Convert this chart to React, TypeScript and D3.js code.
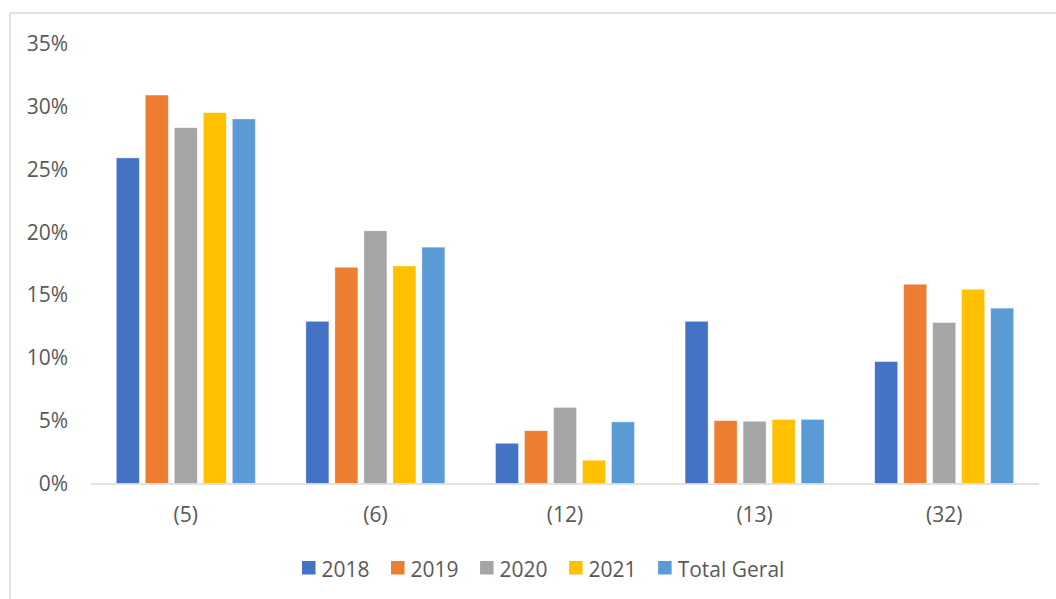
import React, { useEffect, useRef } from "react";
import * as d3 from "d3";

const categories = ["(5)", "(6)", "(12)", "(13)", "(32)"];
const seriesNames = ["2018", "2019", "2020", "2021", "Total Geral"];
const values2018 = [25.9, 12.9, 3.2, 12.9, 9.7];
const values2019 = [30.9, 17.2, 4.2, 5.0, 15.85];
const values2020 = [28.3, 20.1, 6.05, 4.95, 12.8];
const values2021 = [29.5, 17.3, 1.85, 5.1, 15.45];
const valuesTotal = [29.0, 18.8, 4.9, 5.1, 13.95];
const yTicks = [0, 5, 10, 15, 20, 25, 30, 35];
const colors = ["#4472C4", "#ED7D31", "#A5A5A5", "#FFC000", "#5B9BD5"];

const W = 1056;
const H = 599;
const FONT = "'Open Sans', sans-serif";
const FS = 21;
const TEXT = "#595959";

export default function App() {
  const ref = useRef<SVGSVGElement | null>(null);

  useEffect(() => {
    const svg = d3.select(ref.current);
    svg.selectAll("*").remove();

    const seriesValues = [values2018, values2019, values2020, values2021, valuesTotal];
    const plotLeft = 91;
    const plotRight = 1039;
    const y0 = 483.5;
    const yTop = 43.5;

    // chart frame (top and left visible)
    svg.append("line").attr("x1", 10).attr("x2", W).attr("y1", 13).attr("y2", 13)
      .attr("stroke", "#d9d9d9").attr("stroke-width", 1.5);
    svg.append("line").attr("x1", 10).attr("x2", 10).attr("y1", 13).attr("y2", H)
      .attr("stroke", "#d9d9d9").attr("stroke-width", 1.5);

    const y = d3.scaleLinear().domain([0, 35]).range([y0, yTop]);
    const x0 = d3.scaleBand<string>().domain(categories).range([plotLeft, plotRight]).paddingInner(0).paddingOuter(0);
    const bw = x0.bandwidth();
    const p = 6 / 29;
    const groupW = 29 * (5 - p);
    const x1 = d3.scaleBand<string>().domain(seriesNames)
      .range([bw / 2 - groupW / 2, bw / 2 + groupW / 2]).paddingInner(p).paddingOuter(0);

    // y labels
    svg.append("g").selectAll("text").data(yTicks).join("text")
      .attr("x", 68).attr("y", (d) => y(d) + 7.5)
      .attr("text-anchor", "end")
      .attr("font-family", FONT).attr("font-size", FS).attr("fill", TEXT)
      .text((d) => `${d}%`);

    // bars
    const g = svg.append("g");
    categories.forEach((c, ci) => {
      seriesNames.forEach((s, si) => {
        const v = seriesValues[si][ci];
        g.append("rect")
          .attr("x", (x0(c) as number) + (x1(s) as number))
          .attr("y", y(v))
          .attr("width", x1.bandwidth())
          .attr("height", y0 - y(v))
          .attr("fill", colors[si])
          .attr("stroke", "#ffffff").attr("stroke-opacity", 0.5).attr("stroke-width", 0.75);
      });
    });

    // x axis line
    svg.append("line").attr("x1", plotLeft).attr("x2", plotRight).attr("y1", y0 + 0.5).attr("y2", y0 + 0.5)
      .attr("stroke", "#d9d9d9").attr("stroke-width", 1.5);

    // category labels
    svg.append("g").selectAll("text").data(categories).join("text")
      .attr("x", (d) => (x0(d) as number) + bw / 2)
      .attr("y", 521.5)
      .attr("text-anchor", "middle")
      .attr("font-family", FONT).attr("font-size", FS).attr("fill", TEXT)
      .text((d) => d);

    // legend
    const lg = svg.append("g");
    let cx = 302;
    seriesNames.forEach((s, i) => {
      lg.append("rect").attr("x", cx).attr("y", 561).attr("width", 13.5).attr("height", 13.5).attr("fill", colors[i]);
      const t = lg.append("text").attr("x", cx + 19.5).attr("y", 576.5)
        .attr("font-family", FONT).attr("font-size", FS).attr("fill", TEXT).text(s);
      const tw = (t.node() as SVGTextElement).getComputedTextLength();
      cx += 19.5 + tw + 21.5;
    });
  }, []);

  return (
    <svg ref={ref} width={W} height={H} style={{ position: "absolute", left: 0, top: 0, background: "#fff" }} />
  );
}
